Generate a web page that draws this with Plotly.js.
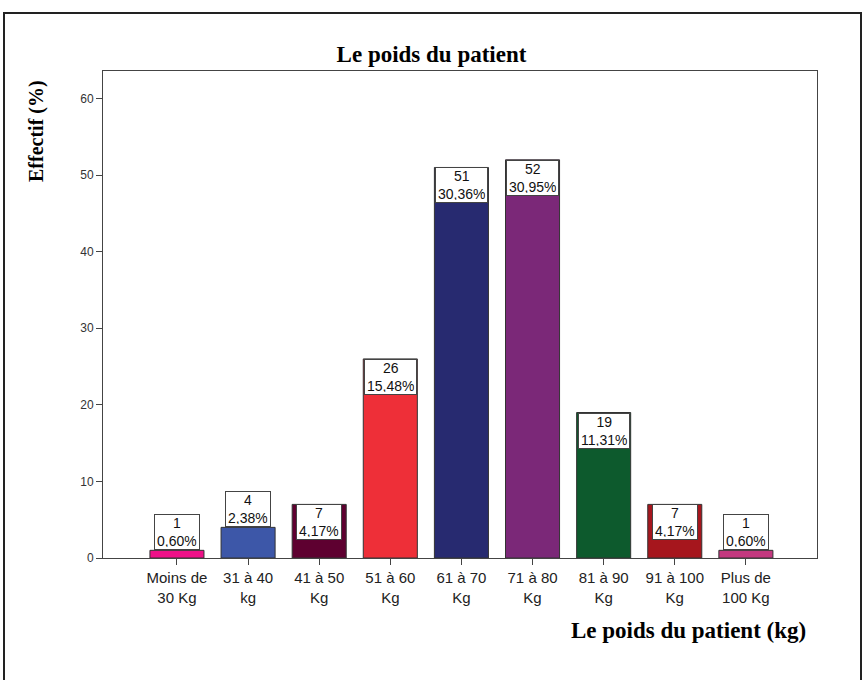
<!DOCTYPE html>
<html>
<head>
<meta charset="utf-8">
<script src="https://cdn.plot.ly/plotly-3.0.1.min.js"></script>
<style>
html,body{margin:0;padding:0;background:#fff;}
#chart{width:863px;height:680px;}
</style>
</head>
<body>
<div id="chart"></div>
<script>
const categories = ["Moins de<br>30 Kg","31 à 40<br>kg","41 à 50<br>Kg","51 à 60<br>Kg","61 à 70<br>Kg","71 à 80<br>Kg","81 à 90<br>Kg","91 à 100<br>Kg","Plus de<br>100 Kg"];
const counts = [1, 4, 7, 26, 51, 52, 19, 7, 1];
const percents = ["0,60%","2,38%","4,17%","15,48%","30,36%","30,95%","11,31%","4,17%","0,60%"];
const colors = ["#ee1088","#3d57a8","#5e0030","#ee2f38","#272a70","#7b2878","#0d5a2d","#a6161d","#c3387f"];
const yTicks = [0, 10, 20, 30, 40, 50, 60];

const W = 863, H = 680;
const margin = {l: 103, r: 46, t: 71, b: 122};
const plotW = W - margin.l - margin.r;
const plotH = H - margin.t - margin.b;
const yMax = 63.6;
const pxPerUnit = plotH / yMax;
const boxH = 36;

const serif = "Liberation Serif, Times New Roman, serif";
const sans = "Liberation Sans, Arial, sans-serif";

const trace = {
  type: "bar",
  x: categories,
  y: counts,
  marker: {color: colors, line: {color: "#333", width: 1}},
  hoverinfo: "none"
};

const annotations = counts.map((c, i) => ({
  x: categories[i], y: c, xref: "x", yref: "y",
  text: c + "<br>" + percents[i],
  showarrow: false,
  yanchor: (c * pxPerUnit >= boxH) ? "top" : "bottom",
  xanchor: "center",
  bgcolor: "#fff", bordercolor: "#444", borderwidth: 1, borderpad: 2,
  height: 30,
  font: {family: sans, size: 14, color: "#111"}
}));

annotations.push({
  text: "<b>Le poids du patient (kg)</b>",
  xref: "paper", yref: "paper",
  x: (808 - margin.l) / plotW, y: (558 - 630) / plotH,
  xanchor: "right", yanchor: "middle", showarrow: false,
  font: {family: serif, size: 23, color: "#000"}
});
annotations.push({
  text: "<b>Effectif (%)</b>",
  xref: "paper", yref: "paper",
  x: (36 - margin.l) / plotW, y: (558 - 131) / plotH,
  xanchor: "center", yanchor: "middle", textangle: -90, showarrow: false,
  font: {family: serif, size: 20, color: "#000"}
});

const layout = {
  width: W, height: H,
  margin: margin,
  paper_bgcolor: "#fff", plot_bgcolor: "#fff",
  showlegend: false,
  bargap: 0.24,
  title: {
    text: "<b>Le poids du patient</b>",
    xref: "container", yref: "container", x: 0.5, y: 1 - 54 / H,
    xanchor: "center", yanchor: "middle",
    font: {family: serif, size: 23, color: "#000"}
  },
  xaxis: {
    type: "category",
    range: [-1.04, 9.0],
    showline: true, mirror: true, linecolor: "#444", linewidth: 1,
    ticks: "outside", ticklen: 6, tickcolor: "#444",
    showgrid: false, zeroline: false,
    tickfont: {family: sans, size: 15, color: "#222"},
    fixedrange: true
  },
  yaxis: {
    range: [0, yMax],
    tickvals: yTicks, ticktext: yTicks.map(String),
    showline: true, mirror: true, linecolor: "#444", linewidth: 1,
    ticks: "outside", ticklen: 6, tickcolor: "#444",
    showgrid: false, zeroline: false,
    tickfont: {family: sans, size: 12, color: "#333"},
    fixedrange: true
  },
  annotations: annotations,
  shapes: [{
    type: "rect", xref: "paper", yref: "paper",
    x0: (4 - margin.l) / plotW, x1: (861 - margin.l) / plotW,
    y0: (558 - 700) / plotH, y1: (558 - 13) / plotH,
    line: {color: "#222", width: 2}, fillcolor: "rgba(0,0,0,0)", layer: "below"
  }]
};

Plotly.newPlot("chart", [trace], layout, {staticPlot: true, displayModeBar: false});
</script>
</body>
</html>
